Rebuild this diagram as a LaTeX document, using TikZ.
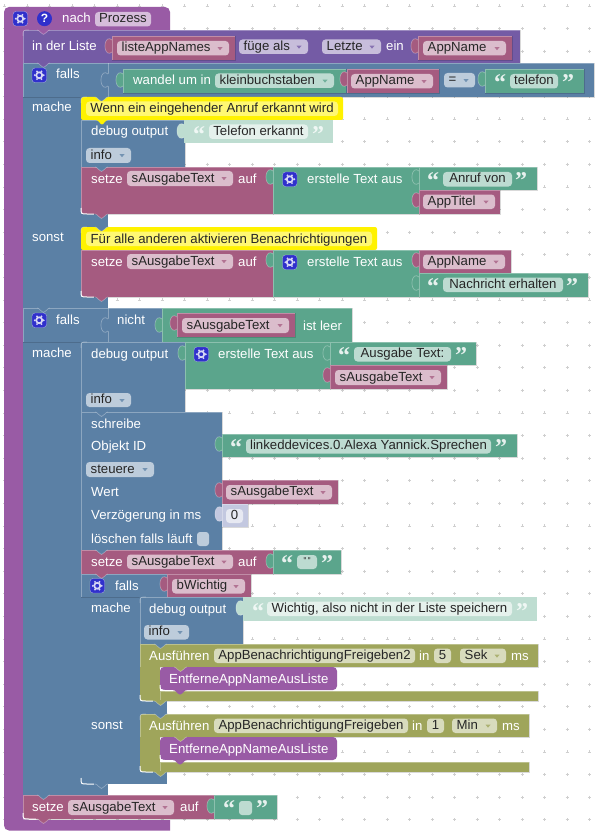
\documentclass[tikz,border=0pt]{standalone}
\usepackage{fontspec}
\setmainfont{Liberation Sans}
\newfontfamily\quotefont{Liberation Serif}
\usetikzlibrary{calc}

\definecolor{procC}{HTML}{995BA5}
\definecolor{listC}{HTML}{745BA5}
\definecolor{logicC}{HTML}{5B80A5}
\definecolor{textC}{HTML}{5BA58C}
\definecolor{textP}{HTML}{BEDDD1}
\definecolor{varC}{HTML}{A55B80}
\definecolor{numP}{HTML}{C3C8E0}
\definecolor{funcC}{HTML}{9FA55B}
\definecolor{iconC}{HTML}{3030CC}
\definecolor{gridC}{HTML}{CFCFCF}

\newcount\labelno
\tikzset{
	lab/.style={anchor=base west, inner sep=0pt, text=white, font=\fontsize{13.2}{15}\selectfont},
	fieldlab/.style={anchor=base, inner sep=0pt, text=black!85, font=\fontsize{13.2}{15}\selectfont},
	edgeL/.style={white, opacity=0.3, line width=0.7pt},
	edgeD/.style={black, opacity=0.15, line width=0.6pt}
}
% block(x1,y1)(x2,y2)
\def\block[#1](#2,#3)(#4,#5){\fill[#1] (#2,#3) rectangle (#4,#5);
	\draw[edgeL] (#2,#5) -- (#2,#3) -- (#4,#3);
	\draw[edgeD] (#4,#3) -- (#4,#5) -- (#2,#5);}
% white text, x is the left end, y the baseline
\def\lab(#1,#2)#3{\global\advance\labelno by 1
	\node[lab] (lab\the\labelno) at (#1,#2) {#3};}
% editable field, x1 x2 y1 y2 text
\def\field[#1](#2,#3)(#4,#5)#6{\global\advance\labelno by 1
	\fill[white, opacity=#1, rounded corners=3.5] (#2,#3) rectangle (#4,#5);
	\node[fieldlab] (lab\the\labelno) at ({(#2+#4)/2},#5-3.6) {#6};}
% field with drop down triangle
\def\drop[#1](#2,#3)(#4,#5)#6{\global\advance\labelno by 1
	\fill[white, opacity=0.6, rounded corners=3.5] (#2,#3) rectangle (#4,#5);
	\node[fieldlab, anchor=base west] (lab\the\labelno) at (#2+4.5,#5-3.6) {#6};
	\fill[#1, opacity=0.75] (#4-11.5,#3+6.2) -- (#4-6.5,#3+6.2) -- (#4-9,#3+9.2) -- cycle;}
% tab of a value block, x is its left edge, y its top
\def\tabv[#1](#2,#3){\fill[#1] (#2+1,#3+4) .. controls (#2-3,#3+1) and (#2-7,#3+3) .. (#2-7,#3+10)
	.. controls (#2-7,#3+17) and (#2-3,#3+19) .. (#2+1,#3+16) -- cycle;
	\draw[edgeL] (#2,#3+4) .. controls (#2-3,#3+1) and (#2-7,#3+3) .. (#2-7,#3+10)
	.. controls (#2-7,#3+17) and (#2-3,#3+19) .. (#2,#3+16);}
% notch left by the block above, x is the left edge of the stack
\def\notch[#1](#2,#3){\fill[#1] (#2+14,#3-1) -- (#2+14,#3) .. controls (#2+17,#3) and (#2+17,#3+4) .. (#2+20.5,#3+4.5)
	.. controls (#2+24,#3+4) and (#2+24,#3) .. (#2+27,#3) -- (#2+27,#3-1) -- cycle;
	\draw[edgeL] (#2+14,#3) .. controls (#2+17,#3) and (#2+17,#3+4) .. (#2+20.5,#3+4.5)
	.. controls (#2+24,#3+4) and (#2+24,#3) .. (#2+27,#3);}
% round corners of a stack, #1 is what shows behind them
\def\lowcorner[#1](#2,#3){\fill[#1] (#2-0.5,#3-6) .. controls (#2,#3) .. (#2+6,#3+0.5) -- (#2-0.5,#3+0.5) -- cycle;
	\draw[white, line width=1pt] (#2,#3-6) .. controls (#2,#3) .. (#2+6,#3) -- (#2+13,#3);}
\def\highcorner[#1](#2,#3){\fill[#1] (#2-0.5,#3+6) .. controls (#2,#3) .. (#2+6,#3-0.5) -- (#2-0.5,#3-0.5) -- cycle;
	\draw[edgeL] (#2,#3+6) .. controls (#2,#3) .. (#2+6,#3);}
\def\gear(#1,#2){\fill[iconC, rounded corners=3] (#1,#2) rectangle (#1+14.5,#2+14.5);
	\draw[white, opacity=0.5, rounded corners=3] (#1,#2) rectangle (#1+14.5,#2+14.5);
	\foreach \a in {0,60,...,300} {\fill[white!80!iconC] ($(#1+7.25,#2+7.25)+(\a:4.4)$) circle (1.1);}
	\draw[white!80!iconC, line width=1.7pt] (#1+7.25,#2+7.25) circle (3);}
% quotes, both pale or not
\def\quotes[#1](#2,#3,#4){\global\advance\labelno by 1
	\node[inner sep=0pt, text=#1, font=\quotefont\bfseries\fontsize{24}{24}\selectfont] (lab\the\labelno) at (#2,#4+2.8) {“};
	\global\advance\labelno by 1
	\node[inner sep=0pt, text=#1, font=\quotefont\bfseries\fontsize{24}{24}\selectfont] (lab\the\labelno) at (#3,#4+2.8) {”};}

\begin{document}
\begin{tikzpicture}[x=1pt, y=-1pt]
			%%%%% START %%%%%
			\useasboundingbox (0,0) rectangle (604,837);
			\fill[white] (0,0) rectangle (604,837);
			
			% dots of the workspace
			\foreach \i in {0,...,26} {
				\foreach \j in {0,...,36} {
					\draw[gridC, line width=0.5pt] (4.5+22.5*\i-1.5,6+22.6*\j) -- (4.5+22.5*\i+1.5,6+22.6*\j);
					\draw[gridC, line width=0.5pt] (4.5+22.5*\i,6+22.6*\j-1.5) -- (4.5+22.5*\i,6+22.6*\j+1.5);
				}
			}
			
			% procedure around everything
			\fill[procC, rounded corners=5] (170,830.5) -- (4,830.5) -- (4,7) -- (170,7) [sharp corners] -- (170,30) -- (23,30) -- (23,820) -- (170,820) -- cycle;
			\gear(13,11.5)
			\fill[iconC] (44.5,18.7) circle (7.5);
			\node[inner sep=0pt, text=white, font=\bfseries\fontsize{12}{12}\selectfont] (helpmark) at (44.5,18.7) {?};
			\lab(62,23){nach}
			\field[0.6](95,12)(151,26.5){Prozess}
			
			% in der Liste
			\block[listC](23,30)(520,63)
			\highcorner[procC](23,30)
			\notch[procC](23,30)
			\lab(32,51){in der Liste}
			\tabv[varC](112,36)
			\block[varC](112,36)(235,60)
			\drop[varC](117,41)(229,55.5){listeAppNames}
			\drop[listC](239,39.5)(308,54){füge als}
			\drop[listC](322,39.5)(381,54){Letzte}
			\lab(386,51){ein}
			\tabv[varC](418,36)
			\block[varC](418,36)(512,60)
			\drop[varC](423,41)(506,55.5){AppName}
			
			% first falls
			\fill[logicC] (23,97) rectangle (108,308);
			\block[logicC](23,63)(594,97)
			\notch[listC](23,63)
			\draw[edgeL] (108,63) -- (108,97);
			\gear(32,68)
			\lab(56,79){falls}
			\tabv[logicC](108,70)
			\lab(32,112){mache}
			\lab(32,241){sonst}
			\tabv[textC](123,70)
			\block[textC](123,69)(346,93)
			\lab(133,85){wandel um in}
			\drop[textC](215,73.5)(334,88){kleinbuchstaben}
			\tabv[varC](347,69)
			\block[varC](347,69)(439,93)
			\drop[varC](351,74)(433,88.5){AppName}
			\drop[logicC](444,73)(475,87.5){=}
			\tabv[textC](485,69)
			\block[textC](485,69)(584,93)
			\quotes[white!85!textC](500,568,80)
			\field[0.6](510,74)(558,88.5){telefon}
			
			\block[logicC](81,120)(185,167)
			\lab(91,136){debug output}
			\drop[logicC](86,148)(131,163){info}
			\tabv[textP](184,121)
			\fill[textP] (184,120) rectangle (333,143);
			\quotes[white!75!textP](199,318,132)
			\field[0.6](209,124.5)(308,139){Telefon erkannt}
			
			\fill[yellow, rounded corners=2] (81,97) rectangle (343,120);
			\highcorner[logicC](81,97)
			\notch[logicC](81,97)
			\fill[yellow!55!white, rounded corners=3.5] (86,101.5) rectangle (338,116);
			\node[fieldlab] (note1) at (212,113) {Wenn ein eingehender Anruf erkannt wird};
			\fill[yellow] (96,120) .. controls (99,120) and (100,124.5) .. (102,124.5) .. controls (104,124.5) and (105,120) .. (108,120) -- cycle;
			
			\block[varC](81,167)(273,214)
			\notch[logicC](81,167)
			\lab(91,183){setze}
			\drop[varC](127,171)(233,186){sAusgabeText}
			\lab(238,183){auf}
			\lowcorner[logicC](81,214)
			\notch[varC](81,214)
			\tabv[textC](273,167)
			\block[textC](273,167)(419,214)
			\gear(282.5,172)
			\lab(307,183){erstelle Text aus}
			\tabv[textC](419,167)
			\block[textC](419,167)(537,190)
			\quotes[white!85!textC](433,521,178)
			\field[0.6](443,172)(512,186.5){Anruf von}
			\tabv[varC](419,190)
			\block[varC](419,190)(500,214)
			\drop[varC](423,194.5)(495,209){AppTitel}
			
			\fill[yellow, rounded corners=2] (81,227) rectangle (377,250);
			\highcorner[logicC](81,227)
			\notch[logicC](81,227)
			\fill[yellow!55!white, rounded corners=3.5] (86,231.5) rectangle (372,246);
			\node[fieldlab] (note2) at (229,243) {Für alle anderen aktivieren Benachrichtigungen};
			\fill[yellow] (96,250) .. controls (100,250) and (100,254.5) .. (102,254.5) .. controls (104,254.5) and (104,250) .. (108,250) -- cycle;
			
			\block[varC](81,250)(273,297)
			\lab(91,266){setze}
			\drop[varC](127,254)(233,269){sAusgabeText}
			\lab(238,266){auf}
			\lowcorner[logicC](81,297)
			\notch[varC](81,297)
			\tabv[textC](273,250)
			\block[textC](273,250)(419,297)
			\gear(282.5,255)
			\lab(307,266){erstelle Text aus}
			\tabv[varC](419,250)
			\block[varC](419,250)(511,273)
			\drop[varC](423,254.5)(505,269){AppName}
			\tabv[textC](419,273)
			\block[textC](419,273)(588,297)
			\quotes[white!85!textC](433,572,284)
			\field[0.6](443,277.5)(563,292){Nachricht erhalten}
			
			% second falls
			\fill[logicC] (23,342) rectangle (81,795);
			\fill[logicC] (81,784) rectangle (108,795);
			\block[logicC](23,308)(162,342)
			\notch[logicC](23,308)
			\draw[edgeL] (108,308) -- (108,342);
			\gear(32,313)
			\lab(56,324){falls}
			\tabv[logicC](108,315)
			\lab(117,324){nicht}
			\tabv[textC](162,315)
			\block[textC](162,308)(352,342)
			\tabv[varC](177,313)
			\block[varC](177,313)(295,337)
			\drop[varC](182,318)(289,333){sAusgabeText}
			\lab(303,330){ist leer}
			\lab(32,357){mache}
			
			\block[logicC](81,342)(185,412)
			\highcorner[logicC](81,342)
			\lab(91,358){debug output}
			\drop[logicC](86,393)(131,407){info}
			\tabv[textC](185,343)
			\block[textC](185,342)(330,389)
			\gear(194,347)
			\lab(218,358){erstelle Text aus}
			\tabv[textC](330,343)
			\block[textC](330,342)(476,365)
			\quotes[white!85!textC](344,461,353)
			\field[0.6](354,347)(451,361.5){Ausgabe Text:}
			\tabv[varC](330,365)
			\block[varC](330,365)(447,389)
			\drop[varC](335,370)(441,385){sAusgabeText}
			
			% schreibe
			\block[logicC](81,412)(222,550)
			\notch[logicC](81,412)
			\lab(91,428){schreibe}
			\lab(91,450){Objekt ID}
			\drop[logicC](86,462)(154,477){steuere}
			\lab(91,496){Wert}
			\lab(91,519){Verzögerung in ms}
			\lab(91,543){löschen falls läuft}
			\fill[white, opacity=0.6, rounded corners=3] (197,532) rectangle (209,546);
			\tabv[textC](222,434)
			\block[textC](222,434)(517,457)
			\quotes[white!85!textC](236,501,445)
			\field[0.6](246,439)(491,453.5){linkeddevices.0.Alexa Yannick.Sprechen}
			\tabv[varC](222,480)
			\block[varC](222,480)(338,504)
			\drop[varC](226,485)(332,499.5){sAusgabeText}
			\tabv[numP](222,504)
			\block[numP](222,504)(248,527)
			\field[0.6](226,509)(243,523){0}
			
			% setze leer
			\block[varC](81,550)(273,574)
			\notch[logicC](81,550)
			\lab(91,566){setze}
			\drop[varC](127,554.5)(233,569){sAusgabeText}
			\lab(238,566){auf}
			\tabv[textC](273,551)
			\block[textC](273,550)(341,574)
			\quotes[white!85!textC](287,327,561)
			\field[0.6](297,555)(317,569){\raisebox{3pt}{\fontsize{8}{8}\selectfont\texttt{""}}}
			
			% falls bWichtig
			\fill[logicC] (81,597) rectangle (140,784);
			\fill[logicC] (140,700) rectangle (167,714);
			\fill[logicC] (140,771) rectangle (167,784);
			\block[logicC](81,574)(167,597)
			\notch[varC](81,574)
			\gear(90,578.5)
			\lab(115,590){falls}
			\tabv[varC](167,574)
			\block[varC](167,574)(251,597)
			\drop[varC](172,579)(245,593.5){bWichtig}
			\lab(91,612){mache}
			\lab(91,729){sonst}
			\lowcorner[logicC](81,784)
			\notch[logicC](81,784)
			
			\block[logicC](140,597)(243,644)
			\highcorner[logicC](140,597)
			\lab(149,613){debug output}
			\drop[logicC](144,625)(189,639.5){info}
			\tabv[textP](243,598)
			\fill[textP] (243,597) rectangle (537,621);
			\quotes[white!75!textP](258,522,609)
			\field[0.6](267,601.5)(512,616){Wichtig, also nicht in der Liste speichern}
			
			% Ausfuehren 1
			\block[funcC](140,644)(538,667)
			\fill[funcC] (140,667) rectangle (160,701);
			\block[funcC](160,691)(538,701)
			\notch[logicC](140,644)
			\lab(149,660){Ausführen}
			\field[0.6](214,648.5)(415,663){AppBenachrichtigungFreigeben2}
			\lab(419,660){in}
			\field[0.6](434,648.5)(451,663){5}
			\drop[funcC](460,648.5)(506,663){Sek}
			\lab(511,660){ms}
			\fill[procC, rounded corners=4] (160,667) rectangle (337,690);
			\notch[funcC](160,667)
			\lab(169,683){EntferneAppNameAusListe}
			\fill[procC] (173,690) .. controls (176,690) and (177,694) .. (180,694.5) .. controls (183,694) and (184,690) .. (187,690) -- cycle;
			\draw[white, line width=1pt] (160,685) .. controls (160,690) .. (165,690.5) -- (173,690.5);
			\lowcorner[logicC](140,701)
			\notch[funcC](140,701)
			
			% Ausfuehren 2
			\block[funcC](140,714)(529,737)
			\highcorner[logicC](140,714)
			\notch[logicC](140,714)
			\fill[funcC] (140,737) rectangle (160,772);
			\block[funcC](160,762)(529,772)
			\lab(149,730){Ausführen}
			\field[0.6](214,718.5)(408,733){AppBenachrichtigungFreigeben}
			\lab(412,730){in}
			\field[0.6](427,718.5)(444,733){1}
			\drop[funcC](452,718.5)(497,733){Min}
			\lab(502,730){ms}
			\fill[procC, rounded corners=4] (160,737) rectangle (337,760);
			\notch[funcC](160,737)
			\lab(169,753){EntferneAppNameAusListe}
			\fill[procC] (173,760) .. controls (176,760) and (177,764) .. (180,764.5) .. controls (183,764) and (184,760) .. (187,760) -- cycle;
			\draw[white, line width=1pt] (160,755) .. controls (160,760) .. (165,760.5) -- (173,760.5);
			\lowcorner[logicC](140,772)
			\notch[funcC](140,772)
			
			% setze am Ende
			\block[varC](23,795)(214,819)
			\notch[logicC](23,795)
			\lab(32,811){setze}
			\drop[varC](68,800)(174,815){sAusgabeText}
			\lab(180,811){auf}
			\lowcorner[procC](23,819)
			\notch[varC](23,819)
			\tabv[textC](214,796)
			\block[textC](214,795)(277,819)
			\quotes[white!85!textC](229,262,806)
			\fill[white, opacity=0.6, rounded corners=3] (239,801) rectangle (252,815);
			
			%%%%% END %%%%%
		\end{tikzpicture}
\end{document}
